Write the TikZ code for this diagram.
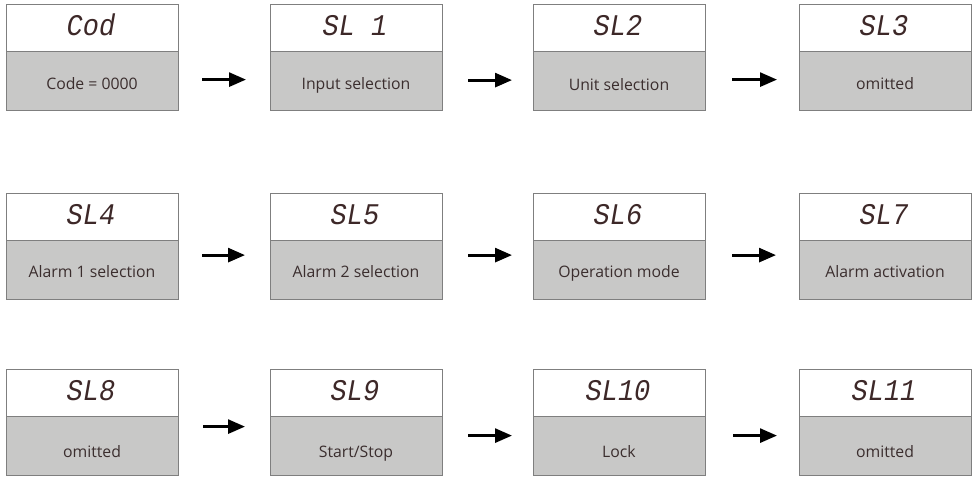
\documentclass[tikz,border=0pt]{standalone}
\usepackage{fontspec}
\setmainfont{Open Sans}
\newfontfamily\segfont{Liberation Mono}[FakeStretch=0.9]
\usetikzlibrary{arrows.meta}
\definecolor{txt}{HTML}{3B2E2E}
\definecolor{seg}{HTML}{3D2828}
\definecolor{boxgray}{HTML}{C8C8C7}
\definecolor{edge}{HTML}{7F7F7F}
\newcommand\panel[6]{% name, x, y, seg text, label, label baseline offset
  \node[topbox] (#1t) at (#2,#3) {};
  \node[botbox] (#1b) at (#2,#3+47) {};
  \node[segtxt] (#1s) at (#2+85,#3+31) {#4};
  \node[lbl] (#1l) at (#2+86,#3+#6) {#5};
}
\begin{document}
\begin{tikzpicture}[x=1pt,y=-1pt,
  topbox/.style={draw=edge,line width=1.2pt,fill=white,minimum width=172pt,minimum height=47pt,inner sep=0pt,anchor=north west},
  botbox/.style={draw=edge,line width=1.2pt,fill=boxgray,minimum width=172pt,minimum height=59pt,inner sep=0pt,anchor=north west},
  segtxt/.style={font=\segfont\itshape\fontsize{30}{30}\selectfont,text=seg,anchor=base,inner sep=0pt},
  lbl/.style={font=\fontsize{15.8}{18}\selectfont,text=txt,anchor=base,inner sep=0pt},
  arr/.style={line width=2.8pt,-{Triangle[length=17pt,width=14pt]}}]
\useasboundingbox (0,0) rectangle (974,477);
% row 1
\panel{a}{6}{4}{Cod}{Code = 0000}{85}
\panel{b}{270}{4}{SL 1}{Input selection}{85}
\panel{c}{533}{4}{SL2}{Unit selection}{86}
\panel{d}{799}{4}{SL3}{omitted}{85}
% row 2
\panel{e}{6}{193}{SL4}{Alarm 1 selection}{84}
\panel{f}{270}{193}{SL5}{Alarm 2 selection}{84}
\panel{g}{533}{193}{SL6}{Operation mode}{84}
\panel{h}{799}{193}{SL7}{Alarm activation}{84}
% row 3
\panel{i}{6}{369}{SL8}{omitted}{88}
\panel{j}{270}{369}{SL9}{Start/Stop}{88}
\panel{k}{533}{369}{SL10}{Lock}{88}
\panel{l}{799}{369}{SL11}{omitted}{88}
% arrows
\draw[arr,shorten <=23pt,shorten >=24pt] ([yshift=1.5pt]ab.east) -- ([yshift=1.5pt]bb.west);
\draw[arr,shorten <=25pt,shorten >=21pt] ([yshift=1pt]bb.east) -- ([yshift=1pt]cb.west);
\draw[arr,shorten <=26pt,shorten >=22pt] ([yshift=1.5pt]cb.east) -- ([yshift=1.5pt]db.west);
\draw[arr,shorten <=23pt,shorten >=25pt] ([yshift=15pt]eb.east) -- ([yshift=15pt]fb.west);
\draw[arr,shorten <=25pt,shorten >=21pt] ([yshift=15pt]fb.east) -- ([yshift=15pt]gb.west);
\draw[arr,shorten <=26pt,shorten >=23pt] ([yshift=15pt]gb.east) -- ([yshift=15pt]hb.west);
\draw[arr,shorten <=24pt,shorten >=25pt] ([yshift=19.5pt]ib.east) -- ([yshift=19.5pt]jb.west);
\draw[arr,shorten <=25pt,shorten >=21pt] ([yshift=10.5pt]jb.east) -- ([yshift=10.5pt]kb.west);
\draw[arr,shorten <=27pt,shorten >=22pt] ([yshift=10.5pt]kb.east) -- ([yshift=10.5pt]lb.west);
\end{tikzpicture}
\end{document}
